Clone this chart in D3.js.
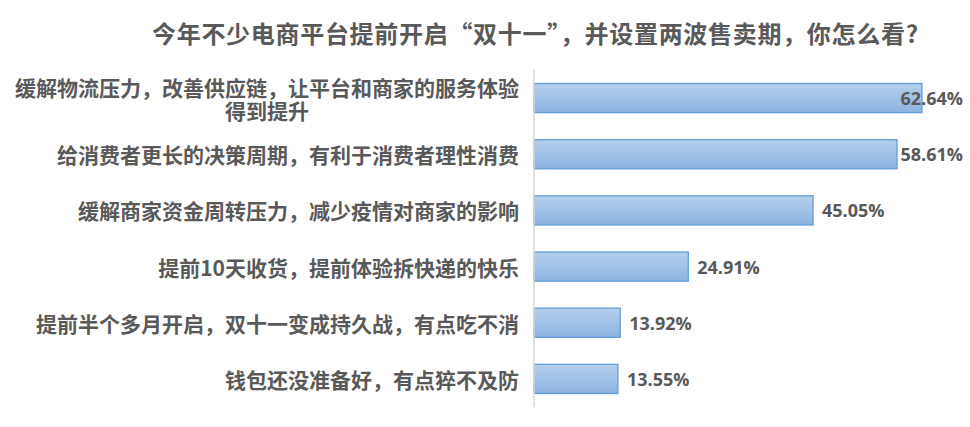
<!DOCTYPE html>
<html>
<head>
<meta charset="utf-8">
<script src="https://cdn.jsdelivr.net/npm/d3@7"></script>
<style>
  body { margin: 0; background: #fff; }
  text { font-family: "Noto Sans CJK SC", "Noto Sans", sans-serif; font-weight: bold; fill: #595959; }
</style>
</head>
<body>
<svg id="chart" width="970" height="427"></svg>
<script>
var title = "今年不少电商平台提前开启“双十一”，并设置两波售卖期，你怎么看?";
var categories = [
	["缓解物流压力，改善供应链，让平台和商家的服务体验", "得到提升"],
	["给消费者更长的决策周期，有利于消费者理性消费"],
	["缓解商家资金周转压力，减少疫情对商家的影响"],
	["提前10天收货，提前体验拆快递的快乐"],
	["提前半个多月开启，双十一变成持久战，有点吃不消"],
	["钱包还没准备好，有点猝不及防"]
];
var values = [62.64, 58.61, 45.05, 24.91, 13.92, 13.55];

var width = 970, height = 427;
var axisX = 534, plotRight = 963;
var svg = d3.select("#chart");

var defs = svg.append("defs");
var grad = defs.append("linearGradient")
	.attr("id", "barGrad")
	.attr("x1", 0).attr("y1", 0).attr("x2", 0).attr("y2", 1);
grad.append("stop").attr("offset", "0%").attr("stop-color", "#b5cfec");
grad.append("stop").attr("offset", "100%").attr("stop-color", "#8db3e2");

var x = d3.scaleLinear().domain([0, 62.64]).range([axisX, 922]);
var y = d3.scaleBand()
	.domain(d3.range(values.length))
	.range([70, 407])
	.paddingInner(0.48)
	.paddingOuter(0.24);

svg.append("text")
	.attr("x", 535)
	.attr("y", 32)
	.attr("text-anchor", "middle")
	.attr("dominant-baseline", "central")
	.style("font-size", "24px")
	.attr("textLength", 766)
	.attr("lengthAdjust", "spacing")
	.text(title);

svg.selectAll(".bar")
	.data(values)
	.enter().append("rect")
	.attr("class", "bar")
	.attr("x", x(0))
	.attr("y", function (d, i) { return y(i); })
	.attr("width", function (d) { return x(d) - x(0); })
	.attr("height", y.bandwidth())
	.style("fill", "url(#barGrad)")
	.style("stroke", "#5b9bd5")
	.style("stroke-width", 1.2);

// axis line
svg.append("line")
	.attr("x1", axisX).attr("x2", axisX)
	.attr("y1", 70).attr("y2", 407)
	.style("stroke", "#d9d9d9")
	.style("stroke-width", 1.5);

// category labels
var lineH = 23;
categories.forEach(function (lines, i) {
	var cy = y(i) + y.bandwidth() / 2;
	var g = svg.append("g");
	var texts = lines.map(function (l, j) {
		return g.append("text")
			.attr("y", cy + (j - (lines.length - 1) / 2) * lineH)
			.attr("dominant-baseline", "central")
			.style("font-size", "21px")
			.text(l);
	});
	var w = d3.max(texts, function (t) { return t.node().getComputedTextLength(); });
	var cx = axisX - 15 - w / 2;
	texts.forEach(function (t) { t.attr("x", cx).attr("text-anchor", "middle"); });
});

// value labels
svg.selectAll(".val")
	.data(values)
	.enter().append("text")
	.attr("class", "val")
	.attr("y", function (d, i) { return y(i) + y.bandwidth() / 2; })
	.attr("dominant-baseline", "central")
	.style("font-family", "'Open Sans', sans-serif")
	.style("font-size", "18px")
	.text(function (d) { return d.toFixed(2) + "%"; })
	.attr("x", function (d) {
		var w = this.getComputedTextLength();
		return Math.min(x(d) + 9, plotRight - w);
	});
</script>
</body>
</html>
